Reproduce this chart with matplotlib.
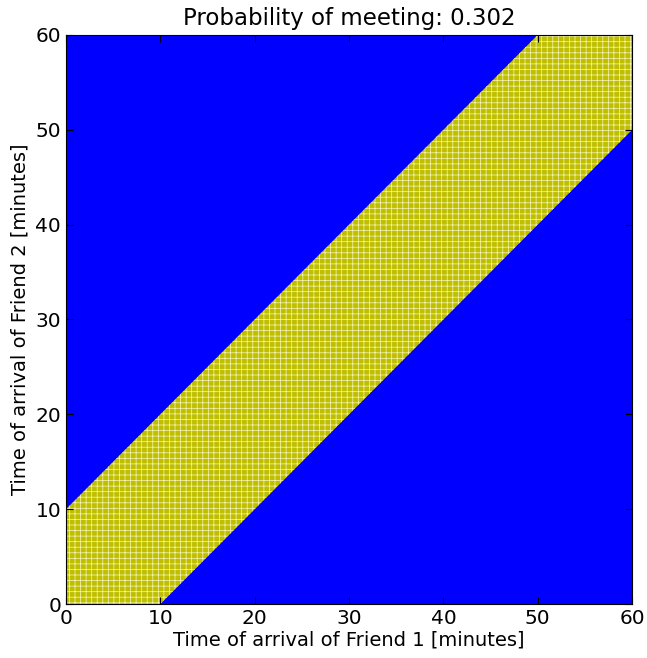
import matplotlib
matplotlib.use("Agg")
import matplotlib.pyplot as plt

# Meeting problem: friend 1 and friend 2 arrive somewhere in a 60 min window,
# they meet if arrivals are within 10 minutes of each other
window = 60
probability = 0.302

# band edges (minutes)
edge_x = [0, 10, 50, 60]
band_low = [0, 0, 40, 50]
band_high = [10, 20, 60, 60]
ticks = [0, 10, 20, 30, 40, 50, 60]

plt.rcParams["hatch.linewidth"] = 0.55

fig = plt.figure(figsize=(6.47, 6.58), dpi=100)
ax = fig.add_axes([0.102, 0.082, 0.875, 0.865])
ax.set_facecolor("blue")

# no meeting (blue) above and below the band
ax.fill_between(edge_x, band_high, [window] * len(edge_x), color="blue", lw=0)
ax.fill_between(edge_x, [0] * len(edge_x), band_low, color="blue", lw=0)

# meeting (yellow) band, hatch gives the speckled look of the scatter
ax.fill_between(edge_x, band_low, band_high, facecolor=(0.75, 0.75, 0),
                edgecolor=(0.95, 0.95, 0.7), hatch="+++", lw=0)

ax.set_xlim(0, window)
ax.set_ylim(0, window)
ax.set_xticks(ticks)
ax.set_yticks(ticks)
ax.tick_params(direction="in", top=True, right=True, labelsize=14.5, length=5)
ax.set_title(f"Probability of meeting: {probability}", fontsize=16.5, pad=7)
ax.set_xlabel("Time of arrival of Friend 1 [minutes]", fontsize=14, labelpad=2)
ax.set_ylabel("Time of arrival of Friend 2 [minutes]", fontsize=14, labelpad=4)

fig.savefig("out.png", dpi=100)
